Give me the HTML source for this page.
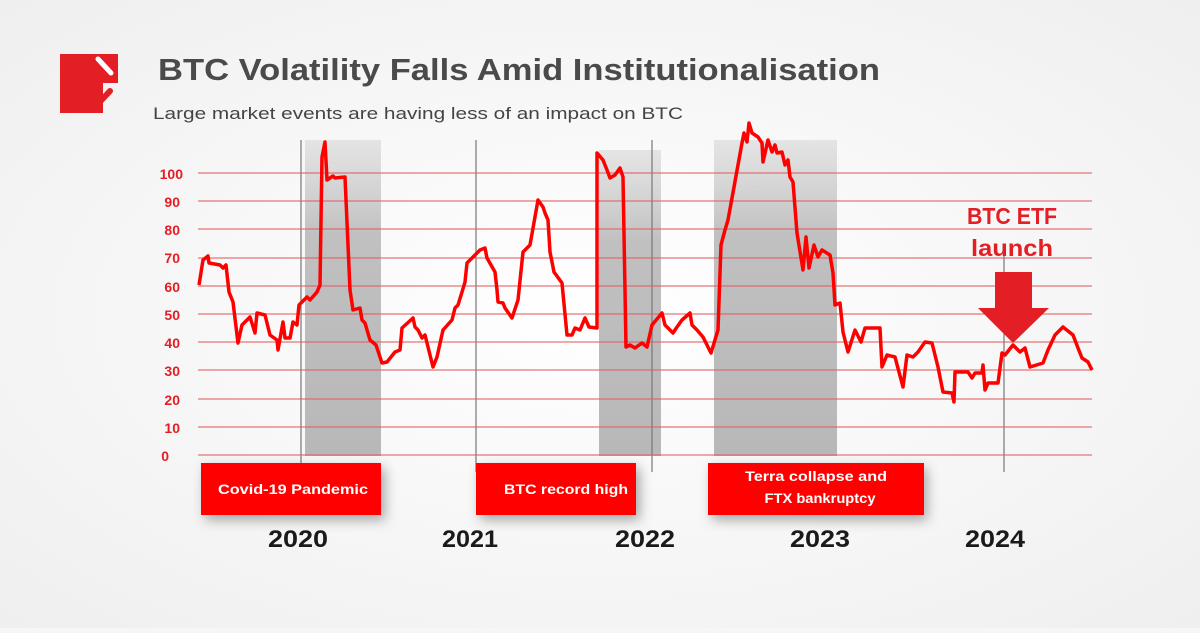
<!DOCTYPE html>
<html><head><meta charset="utf-8"><style>
body{margin:0;width:1200px;height:628px;overflow:hidden;background:#f6f6f6;font-family:"Liberation Sans",sans-serif;}
</style></head><body>
<svg width="1200" height="628" viewBox="0 0 1200 628" xmlns="http://www.w3.org/2000/svg">
<defs>
<radialGradient id="bg" cx="50%" cy="50%" r="70%"><stop offset="0" stop-color="#ffffff"/><stop offset="1" stop-color="#efefef"/></radialGradient>
<linearGradient id="gb" x1="0" y1="0" x2="0" y2="1"><stop offset="0" stop-color="#d0d0d0" stop-opacity="0.5"/><stop offset="0.3" stop-color="#c0c0c0"/><stop offset="1" stop-color="#b8b8b8"/></linearGradient>
<filter id="sh" x="-20%" y="-40%" width="140%" height="180%"><feGaussianBlur stdDeviation="6"/></filter>
</defs>
<rect width="1200" height="628" fill="url(#bg)"/>
<!-- logo -->
<path d="M60 54 H118 V83 H103 V113 H60 Z" fill="#e31e24"/>
<line x1="98" y1="59" x2="111" y2="73" stroke="#fff" stroke-width="5" stroke-linecap="round"/>
<line x1="96" y1="106" x2="110" y2="91" stroke="#e31e24" stroke-width="6" stroke-linecap="round"/>
<text x="158" y="80" font-size="31" font-weight="bold" fill="#4a4a4a" textLength="722" lengthAdjust="spacingAndGlyphs">BTC Volatility Falls Amid Institutionalisation</text>
<text x="153" y="119" font-size="17" fill="#444" textLength="530" lengthAdjust="spacingAndGlyphs">Large market events are having less of an impact on BTC</text>
<!-- gray bands -->
<rect x="305" y="140" width="76" height="316" fill="url(#gb)"/>
<rect x="599" y="150" width="62" height="306" fill="url(#gb)"/>
<rect x="714" y="140" width="123" height="316" fill="url(#gb)"/>
<!-- vertical lines -->
<g stroke="#777" stroke-width="1.2">
<line x1="301" y1="140" x2="301" y2="472"/><line x1="476" y1="140" x2="476" y2="472"/>
<line x1="652" y1="140" x2="652" y2="472"/><line x1="1004" y1="250" x2="1004" y2="472"/>
</g>
<!-- grid -->
<g stroke="#e06060" stroke-width="1.2" opacity="0.85">
<line x1="198" x2="1092" y1="173" y2="173"/><line x1="198" x2="1092" y1="201" y2="201"/>
<line x1="198" x2="1092" y1="229" y2="229"/><line x1="198" x2="1092" y1="258" y2="258"/>
<line x1="198" x2="1092" y1="286" y2="286"/><line x1="198" x2="1092" y1="314" y2="314"/>
<line x1="198" x2="1092" y1="342" y2="342"/><line x1="198" x2="1092" y1="370" y2="370"/>
<line x1="198" x2="1092" y1="399" y2="399"/><line x1="198" x2="1092" y1="427" y2="427"/>
<line x1="198" x2="1092" y1="455" y2="455"/>
</g>
<g font-size="14" font-weight="bold" fill="#e31e24" text-anchor="end">
<text x="183" y="179">100</text><text x="180" y="207">90</text><text x="180" y="235">80</text>
<text x="180" y="263">70</text><text x="180" y="292">60</text><text x="180" y="320">50</text>
<text x="180" y="348">40</text><text x="180" y="376">30</text><text x="180" y="405">20</text>
<text x="180" y="433">10</text><text x="169" y="461">0</text>
</g>
<polyline fill="none" stroke="#ff0000" stroke-width="3.5" stroke-linejoin="round" points="199,285 203,260 208,256 209,263 220,265 223,268 226,265 229,292 233,302 238,343 242,325 250,317 255,333 257,313 265,315 270,335 277,340 278,350 283,322 285,338 290,338 293,322 297,325 299,305 307,297 310,300 317,292 320,285 322,157 325,142 327,180 333,176 335,178 345,177 350,290 353,310 360,308 362,320 365,323 370,340 376,345 382,363 387,362 395,352 400,350 402,328 413,318 415,327 418,330 422,338 425,335 433,367 437,357 443,330 452,320 455,308 458,305 462,292 465,282 467,263 475,255 480,250 485,248 487,258 495,272 497,290 498,302 503,303 505,308 512,318 518,300 523,252 530,245 538,200 543,207 545,213 548,220 550,252 554,272 562,283 567,335 572,335 575,328 580,330 585,318 589,327 597,328 597,153 603,160 607,170 610,178 615,175 620,168 623,177 626,347 630,345 635,348 642,343 647,347 652,325 662,313 665,325 673,333 677,327 682,320 690,313 692,325 697,330 703,337 711,353 718,330 721,245 725,230 728,220 742,143 744,133 747,142 749,123 752,133 758,137 762,143 763,162 768,140 772,152 775,145 777,153 782,152 785,165 788,160 790,177 793,182 797,233 803,270 806,237 809,268 814,245 818,257 822,250 830,255 833,273 835,305 840,303 843,332 848,352 855,330 861,342 865,328 880,328 882,367 887,355 895,357 903,387 907,355 913,357 918,352 925,342 932,343 938,367 943,392 952,393 954,402 955,372 968,372 972,378 975,373 982,373 983,365 985,390 988,383 998,383 1002,353 1005,355 1013,345 1020,352 1025,348 1030,367 1043,363 1048,350 1055,335 1063,327 1073,335 1078,348 1082,358 1088,362 1092,370"/>
<!-- arrow -->
<path d="M995 272 H1032 V308 H1049 L1013 343 L978 308 H995 Z" fill="#e31e24"/>
<g font-size="23" font-weight="bold" fill="#e31e24" text-anchor="middle">
<text x="1012" y="224" textLength="90" lengthAdjust="spacingAndGlyphs">BTC ETF</text><text x="1012" y="256" textLength="82" lengthAdjust="spacingAndGlyphs">launch</text>
</g>
<!-- event boxes -->
<g filter="url(#sh)" fill="#555" opacity="0.5">
<rect x="205" y="468" width="180" height="52"/><rect x="480" y="468" width="160" height="52"/><rect x="712" y="468" width="215" height="52"/>
</g>
<rect x="201" y="463" width="180" height="52" fill="#ff0000"/>
<rect x="476" y="463" width="160" height="52" fill="#ff0000"/>
<rect x="708" y="463" width="216" height="52" fill="#ff0000"/>
<g font-size="14" font-weight="bold" fill="#fff" text-anchor="middle">
<text x="293" y="494" textLength="150" lengthAdjust="spacingAndGlyphs">Covid-19 Pandemic</text>
<text x="566" y="494" textLength="124" lengthAdjust="spacingAndGlyphs">BTC record high</text>
<text x="816" y="481" textLength="142" lengthAdjust="spacingAndGlyphs">Terra collapse and</text>
<text x="820" y="503" textLength="111" lengthAdjust="spacingAndGlyphs">FTX bankruptcy</text>
</g>
<g font-size="24" font-weight="bold" fill="#1a1a1a" text-anchor="middle">
<text x="298" y="547" textLength="60" lengthAdjust="spacingAndGlyphs">2020</text><text x="470" y="547" textLength="56" lengthAdjust="spacingAndGlyphs">2021</text><text x="645" y="547" textLength="60" lengthAdjust="spacingAndGlyphs">2022</text>
<text x="820" y="547" textLength="60" lengthAdjust="spacingAndGlyphs">2023</text><text x="995" y="547" textLength="60" lengthAdjust="spacingAndGlyphs">2024</text>
</g>
</svg>
</body></html>
